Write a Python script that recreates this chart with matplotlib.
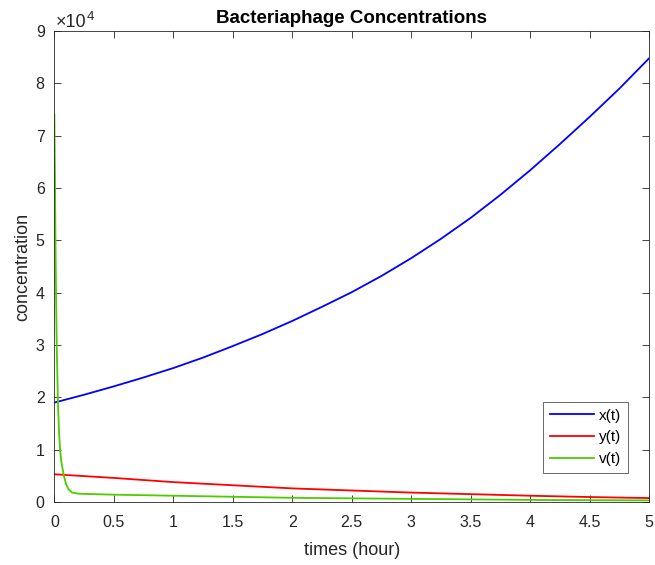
import matplotlib
matplotlib.use("Agg")
import matplotlib.pyplot as plt

plt.rcParams["font.family"] = ["Liberation Sans", "DejaVu Sans"]

# values
t_x = [0, 0.25, 0.5, 0.75, 1, 1.25, 1.5, 1.75, 2, 2.25, 2.5, 2.75,
       3, 3.25, 3.5, 3.75, 4, 4.25, 4.5, 4.75, 5]
x_vals = [19000, 20500, 22100, 23800, 25600, 27600, 29800, 32100, 34600, 37300, 40100, 43200,
          46600, 50300, 54300, 58700, 63400, 68400, 73600, 79000, 84800]

t_y = [0, 0.5, 1, 1.5, 2, 2.5, 3, 3.5, 4, 4.5, 5]
y_vals = [5300, 4600, 3800, 3200, 2600, 2200, 1800, 1500, 1200, 950, 750]

t_v = [0, 0.005, 0.01, 0.015, 0.02, 0.03, 0.04, 0.05, 0.06, 0.08, 0.1,
       0.12, 0.15, 0.2, 0.25, 0.5, 1, 1.5, 2, 3, 4, 5]
v_vals = [74000, 62000, 48000, 38000, 30000, 19000, 13000, 9500, 7500, 5000, 3300,
          2400, 1800, 1600, 1550, 1400, 1200, 1000, 800, 600, 400, 300]

fig = plt.figure(figsize=(6.55, 5.65), dpi=100)
ax = fig.add_axes([0.083, 0.1115, 0.908, 0.8335])

ax.plot(t_x, x_vals, color="#0000ff", lw=1.3, label="x(t)")
ax.plot(t_y, y_vals, color="#ff0000", lw=1.3, label="y(t)")
ax.plot(t_v, v_vals, color="#4dcc00", lw=1.3, label="v(t)")

ax.set_xlim(0, 5)
ax.set_ylim(0, 90000)
ax.set_xticks([0, 0.5, 1, 1.5, 2, 2.5, 3, 3.5, 4, 4.5, 5])
ax.set_xticklabels(["0", "0.5", "1", "1.5", "2", "2.5", "3", "3.5", "4", "4.5", "5"])
ax.set_yticks([i * 10000 for i in range(10)])
ax.set_yticklabels([str(i) for i in range(10)])
ax.tick_params(direction="in", top=True, right=True, labelsize=11.5,
               colors="#262626", length=5, width=0.6)
ax.tick_params(axis="x", pad=9)
ax.tick_params(axis="y", pad=7)
for s in ax.spines.values():
    s.set_color("#262626")
    s.set_linewidth(0.6)

# exponent label like the reference: "×10" with small raised "4"
ax.text(0.003, 1.008, "×10", transform=ax.transAxes,
        fontsize=13, color="#262626", ha="left", va="baseline")
ax.text(0.055, 1.024, "4", transform=ax.transAxes,
        fontsize=9.5, color="#262626", ha="left", va="baseline")

ax.set_xlabel("times (hour)", fontsize=13, color="#262626", labelpad=9)
ax.set_ylabel("concentration", fontsize=13, color="#262626", labelpad=3)
ax.set_title("Bacteriaphage Concentrations", fontsize=13.5, fontweight="bold", pad=6)

leg = ax.legend(loc="lower right", bbox_to_anchor=(0.964, 0.062), borderaxespad=0,
                fontsize=11, fancybox=False, edgecolor="#262626", handlelength=2.9,
                borderpad=0.45, labelspacing=0.5, handletextpad=0.3)
leg.get_frame().set_linewidth(0.6)

fig.savefig("out.png", dpi=100)
